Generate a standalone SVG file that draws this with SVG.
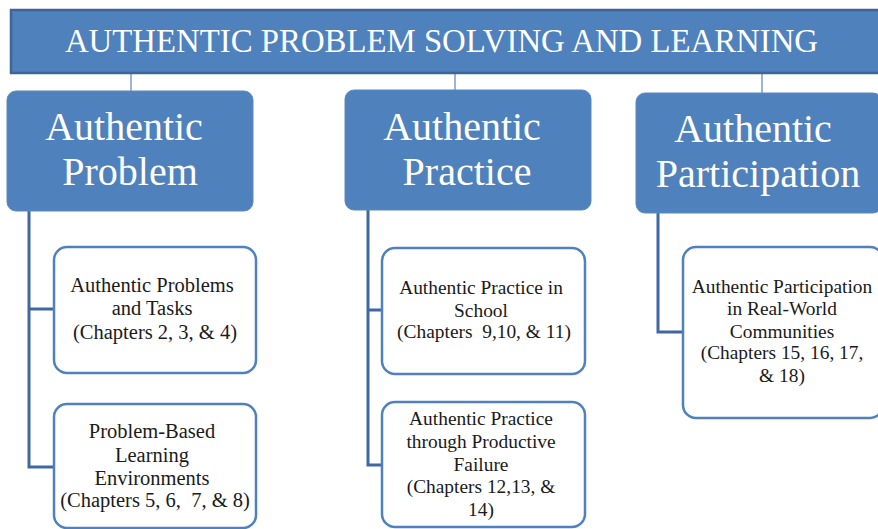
<svg xmlns="http://www.w3.org/2000/svg" width="878" height="529" viewBox="0 0 878 529">
  <style>
    .banner { fill: #4F81BD; stroke: #3E6598; stroke-width: 2.5; }
    .head { fill: #4F81BD; stroke: #5A89C2; stroke-width: 1; }
    .child { fill: #FFFFFF; stroke: #4F81BD; stroke-width: 2.5; }
    .ttl { font-family: "Liberation Serif", "Times New Roman", serif; fill: #FFFFFF; text-anchor: middle; }
    .big { font-size: 32.8px; }
    .hd { font-size: 40px; }
    .txt { font-family: "Liberation Serif", "Times New Roman", serif; font-size: 20.5px; fill: #1A1A1A; text-anchor: middle; }
    .sm { font-size: 19.4px; }
    .link-top { fill: none; stroke: #7D9DCB; stroke-width: 1.5; }
    .link { fill: none; stroke: #3F67A3; stroke-width: 3; }
  </style>

  <!-- connectors -->
  <g id="connectors">
    <line class="link-top" x1="131" y1="73" x2="131" y2="97"/>
    <line class="link-top" x1="455" y1="73" x2="455" y2="97"/>
    <line class="link-top" x1="762" y1="73" x2="762" y2="97"/>
    <polyline class="link" points="29,211 29,467 54,467"/>
    <line class="link" x1="29" y1="309" x2="54" y2="309"/>
    <polyline class="link" points="368,210 368,465 382,465"/>
    <line class="link" x1="368" y1="310" x2="382" y2="310"/>
    <polyline class="link" points="658,213 658,332 683,332"/>
  </g>

  <!-- top banner -->
  <g id="banner">
    <rect class="banner" x="11" y="10" width="870" height="63"/>
    <text class="ttl big" x="441.5" y="52">AUTHENTIC PROBLEM SOLVING AND LEARNING</text>
  </g>

  <!-- level one -->
  <g id="problem">
    <rect class="head" x="7" y="91" width="246" height="120" rx="9"/>
    <text class="ttl hd" x="124" y="140">Authentic</text>
    <text class="ttl hd" x="130" y="185">Problem</text>
  </g>
  <g id="practice">
    <rect class="head" x="345" y="90" width="246" height="120" rx="9"/>
    <text class="ttl hd" x="462" y="140">Authentic</text>
    <text class="ttl hd" x="467" y="185">Practice</text>
  </g>
  <g id="participation">
    <rect class="head" x="636" y="93" width="246" height="120" rx="9"/>
    <text class="ttl hd" x="753" y="142">Authentic</text>
    <text class="ttl hd" x="758" y="187">Participation</text>
  </g>

  <!-- level two -->
  <g id="problems-tasks">
    <rect class="child" x="54" y="247" width="202" height="126" rx="13"/>
    <text class="txt" x="152" y="292">Authentic Problems</text>
    <text class="txt" x="152" y="315">and Tasks</text>
    <text class="txt" x="155" y="339">(Chapters 2, 3, &amp; 4)</text>
  </g>
  <g id="pbl-environments">
    <rect class="child" x="54" y="404" width="202" height="124" rx="13"/>
    <text class="txt" x="152" y="438">Problem-Based</text>
    <text class="txt" x="152" y="462">Learning</text>
    <text class="txt" x="152" y="485">Environments</text>
    <text class="txt" x="155" y="507" xml:space="preserve">(Chapters 5, 6,  7, &amp; 8)</text>
  </g>
  <g id="practice-school">
    <rect class="child" x="382" y="248" width="203" height="126" rx="13"/>
    <text class="txt sm" x="481" y="294">Authentic Practice in</text>
    <text class="txt sm" x="481" y="317">School</text>
    <text class="txt sm" x="484" y="338" xml:space="preserve">(Chapters  9,10, &amp; 11)</text>
  </g>
  <g id="productive-failure">
    <rect class="child" x="382" y="402" width="203" height="125" rx="13"/>
    <text class="txt sm" x="481" y="425">Authentic Practice</text>
    <text class="txt sm" x="481" y="448">through Productive</text>
    <text class="txt sm" x="481" y="471">Failure</text>
    <text class="txt sm" x="481" y="493">(Chapters 12,13, &amp;</text>
    <text class="txt sm" x="481" y="516">14)</text>
  </g>
  <g id="real-world">
    <rect class="child" x="683" y="247" width="200" height="171" rx="13"/>
    <text class="txt sm" x="782" y="293">Authentic Participation</text>
    <text class="txt sm" x="782" y="315">in Real-World</text>
    <text class="txt sm" x="782" y="338">Communities</text>
    <text class="txt sm" x="782" y="359">(Chapters 15, 16, 17,</text>
    <text class="txt sm" x="782" y="382">&amp; 18)</text>
  </g>
</svg>
